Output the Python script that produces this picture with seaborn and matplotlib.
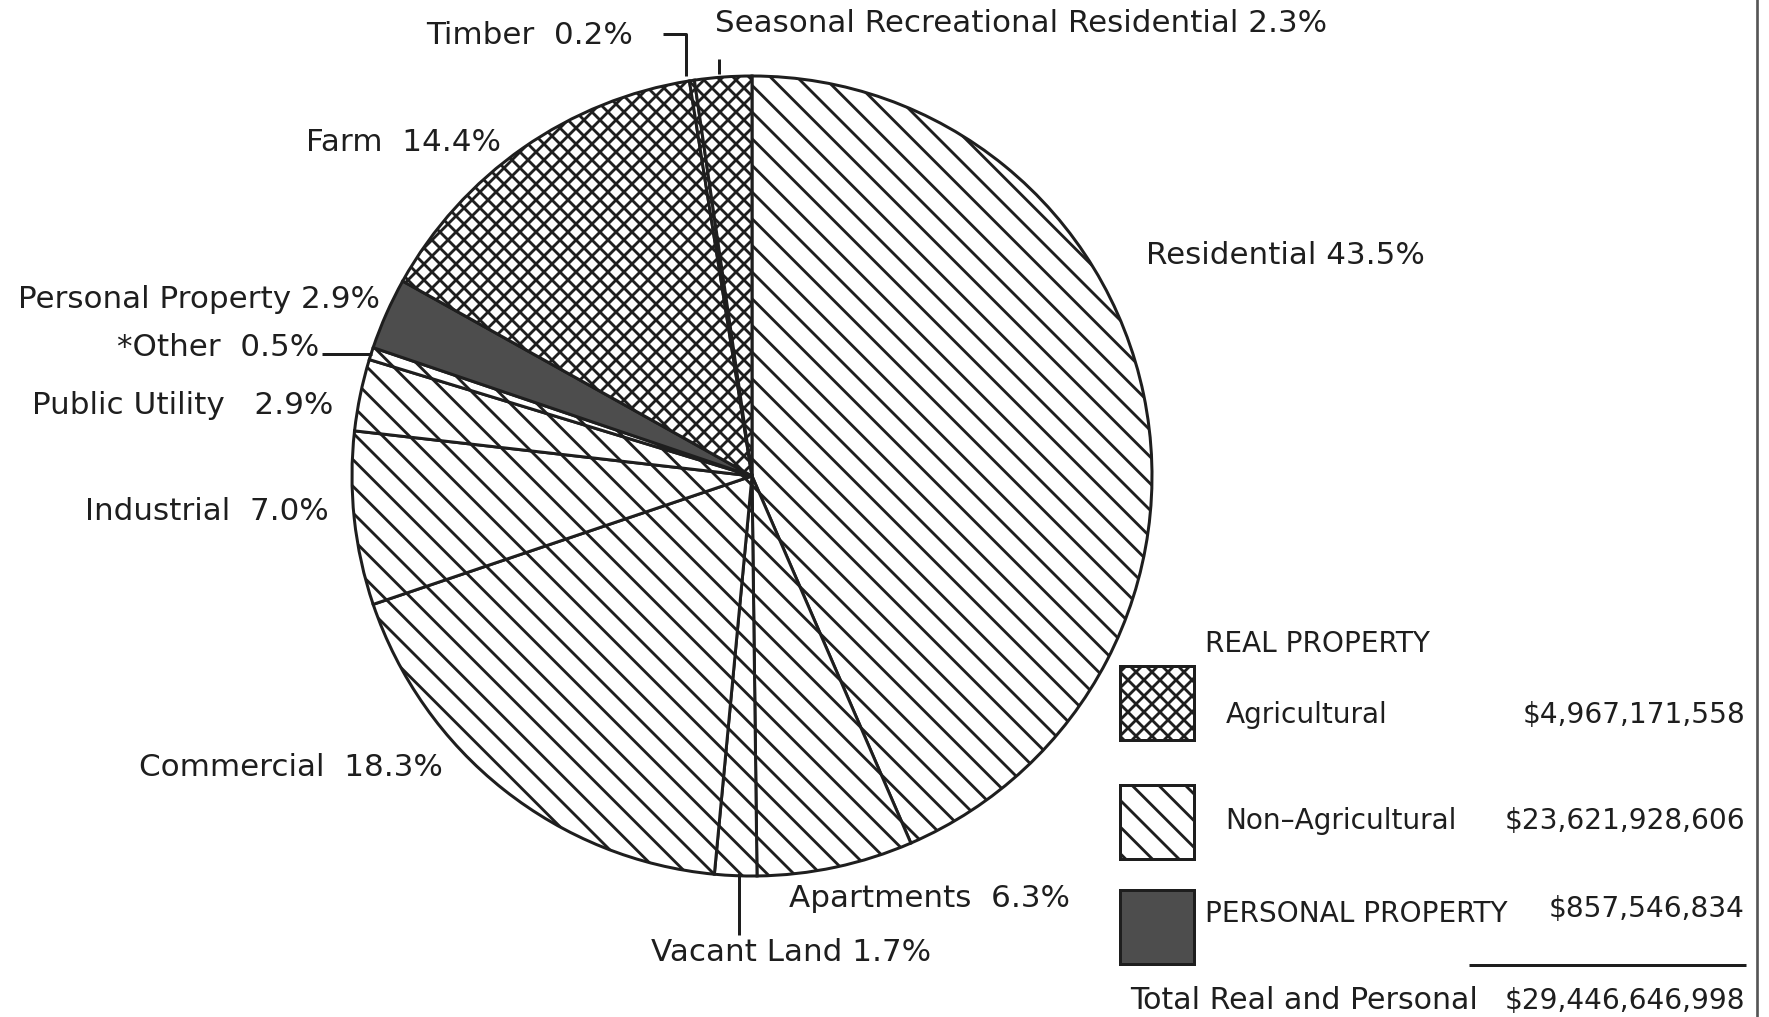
import matplotlib
matplotlib.use("Agg")
import matplotlib.pyplot as plt
from matplotlib.patches import Rectangle
import seaborn as sns

# ---- data ----
categories = ["Residential", "Apartments", "Vacant Land", "Commercial", "Industrial",
              "Public Utility", "*Other", "Personal Property", "Farm", "Timber",
              "Seasonal Recreational Residential"]
percents = [43.5, 6.3, 1.7, 18.3, 7.0, 2.9, 0.5, 2.9, 14.4, 0.2, 2.3]
groups = ["non", "non", "non", "non", "non", "non", "non", "pers", "agr", "agr", "agr"]

legend_labels = ["Agricultural", "Non\u2013Agricultural", "PERSONAL PROPERTY"]
legend_groups = ["agr", "non", "pers"]
legend_amounts = ["$4,967,171,558", "$23,621,928,606", "$857,546,834"]
total_label = "Total Real and Personal"
total_amount = "$29,446,646,998"

# ---- style ----
sns.set_theme(style="white")
plt.rcParams["font.family"] = ["DejaVu Sans"]
plt.rcParams["hatch.linewidth"] = 0.85

W, H, DPI = 1769, 1018, 240
fig = plt.figure(figsize=(W / DPI, H / DPI), dpi=DPI)
fig.patch.set_facecolor("white")
ax = fig.add_axes([0, 0, 1, 1])

def Y(y):
    return H - y

group_style = {
    "agr": dict(hatch="xxxxx", facecolor="white"),
    "non": dict(hatch="\\\\\\", facecolor="white"),
    "pers": dict(hatch=None, facecolor="#4d4d4d"),
}
ink = "#1e1e1e"

cx, cy, R = 752, 477, 400
wedges, _ = ax.pie(percents, startangle=90, counterclock=False,
                   center=(cx, Y(cy)), radius=R,
                   colors=[group_style[g]["facecolor"] for g in groups],
                   hatch=[group_style[g]["hatch"] or "" for g in groups],
                   wedgeprops=dict(edgecolor=ink, linewidth=0.9),
                   frame=True)
ax.set_xlim(0, W)
ax.set_ylim(0, H)
ax.set_aspect("equal")
ax.axis("off")

fs = 9.3
fs_leg = 8.4

def label(x, y, s, ha="left", size=fs):
    ax.text(x, Y(y), s, ha=ha, va="center", color=ink, fontsize=size)

def leader(xs, ys):
    ax.plot(xs, [Y(v) for v in ys], color=ink, lw=0.9, solid_capstyle="butt")

# slice labels
label(1146, 255, f"{categories[0]} {percents[0]}%")
label(1070, 899, f"{categories[1]}  {percents[1]}%", ha="right")
label(651, 953, f"{categories[2]} {percents[2]}%")
leader([739, 739], [874, 936])
label(443, 768, f"{categories[3]}  {percents[3]}%", ha="right")
label(329, 511, f"{categories[4]}  {percents[4]}%", ha="right")
label(333, 406, f"{categories[5]}   {percents[5]}%", ha="right")
label(319, 347, f"{categories[6]}  {percents[6]}%", ha="right")
leader([322, 372], [355, 355])
label(380, 300, f"{categories[7]} {percents[7]}%", ha="right")
label(501, 142, f"{categories[8]}  {percents[8]}%", ha="right")
label(633, 35, f"{categories[9]}  {percents[9]}%", ha="right")
leader([663, 686, 686], [35, 35, 77])
label(715, 23, f"{categories[10]} {percents[10]}%")
leader([719, 719], [60, 75])

# legend
label(1205, 644, "REAL PROPERTY", size=fs_leg)
boxes = [(1120, 667), (1120, 786), (1120, 891)]
text_x = [1226, 1225, 1205]
text_y = [715, 821, 914]
amt_y = [715, 821, 909]
for (bx, by), g, lab, amt, tx, ty, ay in zip(boxes, legend_groups, legend_labels,
                                            legend_amounts, text_x, text_y, amt_y):
    st = group_style[g]
    ax.add_patch(Rectangle((bx, Y(by + 74)), 74, 74, facecolor=st["facecolor"],
                           hatch=st["hatch"], edgecolor=ink, linewidth=0.9))
    label(tx, ty, lab, size=fs_leg)
    label(1745, ay, amt, ha="right", size=fs_leg)

leader([1469, 1746], [966, 966])
label(1130, 1001, total_label, size=9.0)
label(1745, 1001, total_amount, ha="right", size=fs_leg)

# page edge
ax.plot([1757, 1757], [0, H], color="#555555", lw=0.8)

fig.savefig("out.png", dpi=DPI, facecolor="white")
